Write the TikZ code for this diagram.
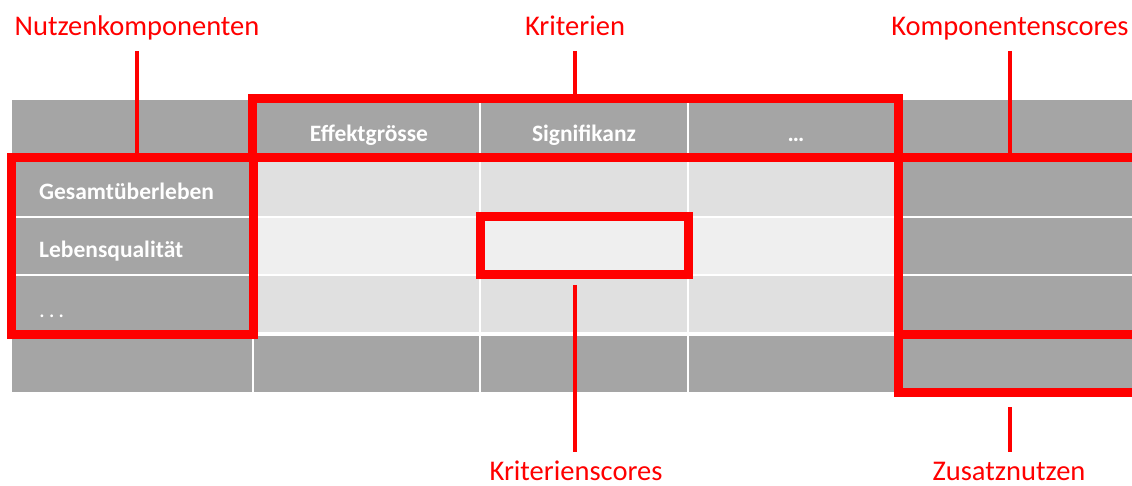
\documentclass[tikz,border=0pt]{standalone}
\usepackage{fontspec}
\setmainfont{Carlito}
\definecolor{cellgray}{HTML}{A5A5A5}
\definecolor{celllight}{HTML}{E0E0E0}
\definecolor{celllighter}{HTML}{EFEFEF}
\definecolor{mark}{HTML}{FF0000}
\tikzset{
  x=1pt, y=-1pt,
  label text/.style={text=mark, font=\fontsize{28.5}{32}\selectfont, inner sep=0pt, anchor=base},
  head text/.style={text=white, font=\bfseries\fontsize{23.5}{27}\selectfont, inner sep=0pt, anchor=base},
  row text/.style={text=white, font=\bfseries\fontsize{23.5}{27}\selectfont, inner sep=0pt, anchor=base west},
  redbox/.style={draw=mark, line width=9pt, inner sep=0pt, outer sep=0pt},
  conn/.style={draw=mark, line width=4pt},
  sep/.style={draw=white, line width=1.5pt},
}
\begin{document}
\begin{tikzpicture}
\useasboundingbox[fill=white] (0,0) rectangle (1132,486);

% table body
\fill[cellgray] (12,100) rectangle (1132,392);
\fill[celllight] (252,158) rectangle (895,332);
\fill[celllighter] (252,217) rectangle (895,275);
% cell separators
\draw[sep] (12,217) -- (1132,217);
\draw[sep] (12,275) -- (1132,275);
\draw[draw=white, line width=4pt] (12,334) -- (1132,334);
\draw[sep] (480,100) -- (480,392);
\draw[sep] (688,100) -- (688,392);
\draw[sep] (253,334) -- (253,392);

% header and row texts
\node[head text] (h1) at (369,142) {Effektgrösse};
\node[head text] (h2) at (584,142) {Signifikanz};
\node[head text] (h3) at (796,142) {…};
\node[row text] (r1) at (39,200) {Gesamtüberleben};
\node[row text] (r2) at (39,258) {Lebensqualität};
\node[row text, font=\fontsize{23}{27}\selectfont] (r3) at (39,317) {.\,.\,.};

% highlighted regions
\node[redbox, minimum width=646pt, minimum height=59pt] (krit) at (575,128.5) {};
\node[redbox, minimum width=241.5pt, minimum height=176pt] (nutz) at (132.25,246) {};
\node[redbox, minimum width=208pt, minimum height=58pt] (kscore) at (584,246) {};
\coordinate (kr) at (898,158);
\coordinate (zbot) at (898,392);
\coordinate (zmid) at (898,334);
\draw[draw=mark, line width=9pt] (1136,158) -- (kr) -- (zbot) -- (1136,392);
\draw[draw=mark, line width=9pt] (zmid) -- (1136,334);

% labels
\node[label text] (lnutz) at (137,36) {Nutzenkomponenten};
\node[label text] (lkrit) at (575,36) {Kriterien};
\node[label text] (lkomp) at (1010,36) {Komponentenscores};
\node[label text] (lks) at (576,480) {Kriterienscores};
\node[label text] (lzus) at (1009,480) {Zusatznutzen};

% connectors
\coordinate (c1a) at (137,51);
\coordinate (c2a) at (575,51);
\coordinate (c3a) at (1010,51);
\coordinate (c3b) at (1010,154);
\coordinate (c4a) at (575,285);
\coordinate (c4b) at (575,452);
\coordinate (c5a) at (1010,407);
\coordinate (c5b) at (1010,452);
\draw[conn] (c1a) -- (c1a |- nutz.north);
\draw[conn] (c2a) -- (c2a |- krit.north);
\draw[conn] (c3a) -- (c3b);
\draw[conn] (c4a) -- (c4b);
\draw[conn] (c5a) -- (c5b);
\end{tikzpicture}
\end{document}
